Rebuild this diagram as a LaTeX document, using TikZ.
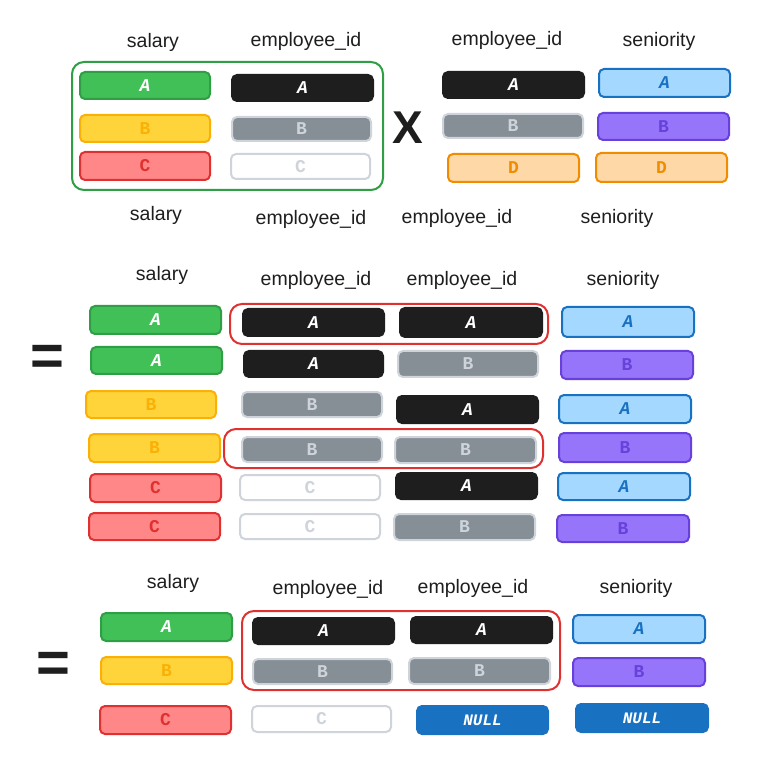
\documentclass[tikz,border=0pt]{standalone}
\usepackage{fontspec}
\setmainfont{Liberation Sans}
\newfontfamily\handfont{Liberation Mono}
\definecolor{ink}{HTML}{1E1E1E}
\definecolor{grnfill}{HTML}{40C057}
\definecolor{grnline}{HTML}{2F9E44}
\definecolor{yelfill}{HTML}{FFD43B}
\definecolor{yelline}{HTML}{FAB005}
\definecolor{redfill}{HTML}{FF8787}
\definecolor{redline}{HTML}{E03131}
\definecolor{gryfill}{HTML}{868E96}
\definecolor{gryline}{HTML}{CED4DA}
\definecolor{ornfill}{HTML}{FFD8A8}
\definecolor{ornline}{HTML}{F08C00}
\definecolor{blufill}{HTML}{A5D8FF}
\definecolor{bluline}{HTML}{1971C2}
\definecolor{purfill}{HTML}{9775FA}
\definecolor{purline}{HTML}{6741D9}
\tikzset{
  cell/.style={rounded corners=5pt, line width=2pt, font=\handfont\bfseries\fontsize{18}{18}\selectfont},
  grncell/.style={cell, fill=grnfill, draw=grnline, text=white},
  yelcell/.style={cell, fill=yelfill, draw=yelline, text=yelline},
  redcell/.style={cell, fill=redfill, draw=redline, text=redline},
  blkcell/.style={cell, fill=ink, draw=ink, text=white},
  grycell/.style={cell, fill=gryfill, draw=gryline, text=gryline},
  whtcell/.style={cell, fill=white, draw=gryline, text=gryline},
  orncell/.style={cell, fill=ornfill, draw=ornline, text=ornline},
  blucell/.style={cell, fill=blufill, draw=bluline, text=bluline},
  purcell/.style={cell, fill=purfill, draw=purline, text=purline},
  nulcell/.style={cell, fill=bluline, draw=bluline, text=white,
    font=\handfont\bfseries\fontsize{16}{16}\selectfont},
  grngrp/.style={rounded corners=12pt, line width=2pt, draw=grnline},
  redgrp/.style={rounded corners=12pt, line width=2pt, draw=redline},
  colname/.style={font=\fontsize{19.5}{20}\selectfont, text=ink},
  opsign/.style={font=\bfseries\fontsize{46}{46}\selectfont, text=ink},
  eqsign/.style={font=\bfseries\fontsize{58}{58}\selectfont, text=ink},
}
\begin{document}
\begin{tikzpicture}[x=1pt, y=-1pt]
	\fill[white] (0,0) rectangle (766,759);
	\useasboundingbox (0,0) rectangle (766,759);
	% the two tables
	\node[colname] (th1) at (153,42) {salary};
	\node[colname] (th2) at (306,41) {employee\_id};
	\node[colname] (th3) at (507,40) {employee\_id};
	\node[colname] (th4) at (659,41) {seniority};
	\filldraw[grncell] (80,72) rectangle node (ta1) {\itshape A} (210,99);
	\filldraw[yelcell] (80,115) rectangle node (ta2) {B} (210,142);
	\filldraw[redcell] (80,152) rectangle node (ta3) {C} (210,180);
	\filldraw[blkcell] (232,75) rectangle node (tb1) {\itshape A} (373,101);
	\filldraw[grycell] (232,117) rectangle node (tb2) {B} (371,141);
	\filldraw[whtcell] (231,154) rectangle node (tb3) {C} (370,179);
	\draw[grngrp] (72,62) rectangle (383,190);
	\node[opsign] (times) at (408,128) {X};
	\filldraw[blkcell] (443,72) rectangle node (tc1) {\itshape A} (584,98);
	\filldraw[grycell] (443,114) rectangle node (tc2) {B} (583,138);
	\filldraw[orncell] (448,154) rectangle node (tc3) {D} (579,182);
	\filldraw[blucell] (599,69) rectangle node (td1) {\itshape A} (730,97);
	\filldraw[purcell] (598,113) rectangle node (td2) {B} (729,140);
	\filldraw[orncell] (596,153) rectangle node (td3) {D} (727,182);
	\node[colname] (sh1) at (156,215) {salary};
	\node[colname] (sh2) at (311,219) {employee\_id};
	\node[colname] (sh3) at (457,218) {employee\_id};
	\node[colname] (sh4) at (617,218) {seniority};
	% cross join
	\node[eqsign] (eq1) at (47,360) {=};
	\node[colname] (mh1) at (162,275) {salary};
	\node[colname] (mh2) at (316,280) {employee\_id};
	\node[colname] (mh3) at (462,280) {employee\_id};
	\node[colname] (mh4) at (623,280) {seniority};
	\filldraw[grncell] (90,306) rectangle node (ma1) {\itshape A} (221,334);
	\filldraw[grncell] (91,347) rectangle node (ma2) {\itshape A} (222,374);
	\filldraw[yelcell] (86,391) rectangle node (ma3) {B} (216,418);
	\filldraw[yelcell] (89,434) rectangle node (ma4) {B} (220,462);
	\filldraw[redcell] (90,474) rectangle node (ma5) {C} (221,502);
	\filldraw[redcell] (89,513) rectangle node (ma6) {C} (220,540);
	\filldraw[blkcell] (243,309) rectangle node (mb1) {\itshape A} (384,336);
	\filldraw[blkcell] (244,351) rectangle node (mb2) {\itshape A} (383,377);
	\filldraw[grycell] (242,392) rectangle node (mb3) {B} (382,417);
	\filldraw[grycell] (242,437) rectangle node (mb4) {B} (382,462);
	\filldraw[whtcell] (240,475) rectangle node (mb5) {C} (380,500);
	\filldraw[whtcell] (240,514) rectangle node (mb6) {C} (380,539);
	\filldraw[blkcell] (400,308) rectangle node (mc1) {\itshape A} (542,337);
	\filldraw[grycell] (398,351) rectangle node (mc2) {B} (538,377);
	\filldraw[blkcell] (397,396) rectangle node (mc3) {\itshape A} (538,423);
	\filldraw[grycell] (395,437) rectangle node (mc4) {B} (536,463);
	\filldraw[blkcell] (396,473) rectangle node (mc5) {\itshape A} (537,499);
	\filldraw[grycell] (394,514) rectangle node (mc6) {B} (535,540);
	\filldraw[blucell] (562,307) rectangle node (md1) {\itshape A} (694,337);
	\filldraw[purcell] (561,351) rectangle node (md2) {B} (693,379);
	\filldraw[blucell] (559,395) rectangle node (md3) {\itshape A} (691,423);
	\filldraw[purcell] (559,433) rectangle node (md4) {B} (691,462);
	\filldraw[blucell] (558,473) rectangle node (md5) {\itshape A} (690,500);
	\filldraw[purcell] (557,515) rectangle node (md6) {B} (689,542);
	\draw[redgrp] (230,304) rectangle (548,344);
	\draw[redgrp] (224,429) rectangle (543,468);
	% left join result
	\node[eqsign] (eq2) at (53,667) {=};
	\node[colname] (bh1) at (173,583) {salary};
	\node[colname] (bh2) at (328,589) {employee\_id};
	\node[colname] (bh3) at (473,588) {employee\_id};
	\node[colname] (bh4) at (636,588) {seniority};
	\filldraw[grncell] (101,613) rectangle node (ba1) {\itshape A} (232,641);
	\filldraw[yelcell] (101,657) rectangle node (ba2) {B} (232,684);
	\filldraw[redcell] (100,706) rectangle node (ba3) {C} (231,734);
	\filldraw[blkcell] (253,618) rectangle node (bb1) {\itshape A} (394,644);
	\filldraw[grycell] (253,659) rectangle node (bb2) {B} (392,684);
	\filldraw[whtcell] (252,706) rectangle node (bb3) {C} (391,732);
	\filldraw[blkcell] (411,617) rectangle node (bc1) {\itshape A} (552,643);
	\filldraw[grycell] (409,658) rectangle node (bc2) {B} (550,684);
	\filldraw[nulcell] (417,706) rectangle node (bc3) {\itshape NULL} (548,734);
	\filldraw[blucell] (573,615) rectangle node (bd1) {\itshape A} (705,643);
	\filldraw[purcell] (573,658) rectangle node (bd2) {B} (705,686);
	\filldraw[nulcell] (576,704) rectangle node (bd3) {\itshape NULL} (708,732);
	\draw[redgrp] (242,611) rectangle (560,690);
\end{tikzpicture}
\end{document}
